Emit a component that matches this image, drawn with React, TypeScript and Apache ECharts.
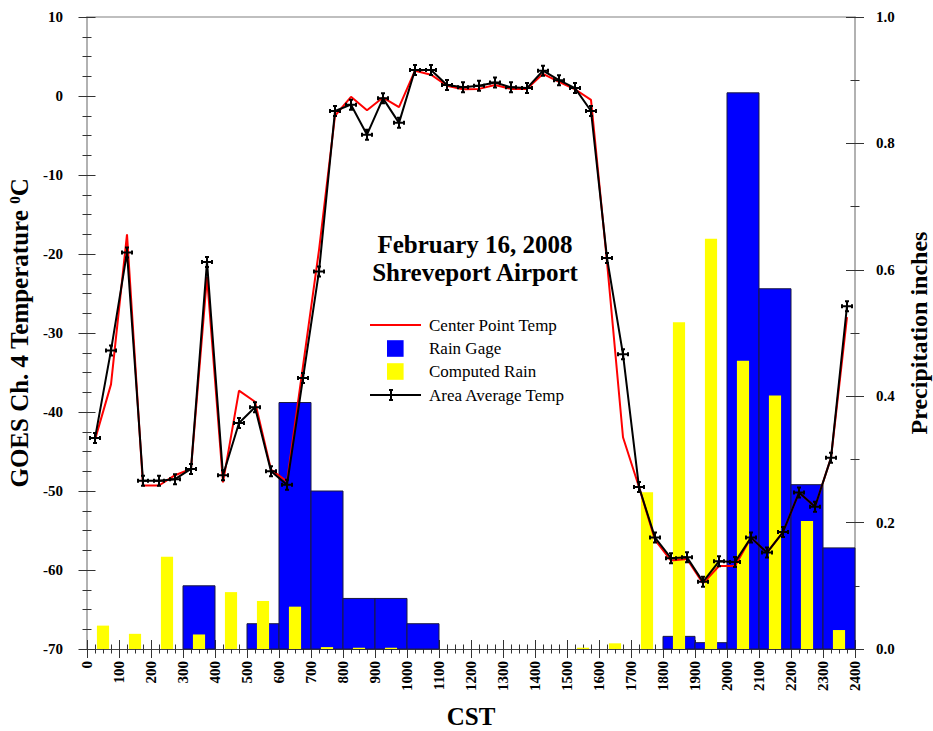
import React, { useEffect, useRef } from 'react';
import * as echarts from 'echarts';

const FONT = "'Liberation Serif', 'Times New Roman', serif";

// Temperature samples (CST, decimal-hour x 100 scale), every half hour
const tempTimes = [
  25, 75, 125, 175, 225, 275, 325, 375, 425, 475, 525, 575,
  625, 675, 725, 775, 825, 875, 925, 975, 1025, 1075, 1125, 1175,
  1225, 1275, 1325, 1375, 1425, 1475, 1525, 1575, 1625, 1675, 1725, 1775,
  1825, 1875, 1925, 1975, 2025, 2075, 2125, 2175, 2225, 2275, 2325, 2375,
];

const centerPointTemp = [
  -43.5, -36.5, -17.5, -49.3, -49.3, -48.0, -47.2, -22.9, -48.9, -37.3, -38.7, -47.3,
  -48.8, -34.2, -19.5, -2.5, -0.1, -1.8, -0.2, -1.4, 3.2, 2.7, 1.3, 0.85,
  0.9, 1.4, 0.9, 0.9, 2.8, 1.8, 0.85, -0.5, -21.0, -43.2, -49.5, -56.2,
  -58.8, -58.6, -61.7, -59.5, -59.5, -55.9, -57.8, -55.2, -50.2, -52.0, -45.8, -28.0,
];

const areaAverageTemp = [
  -43.3, -32.2, -19.8, -48.7, -48.7, -48.5, -47.2, -21.0, -48.0, -41.4, -39.4, -47.5,
  -49.2, -35.7, -22.2, -1.9, -1.1, -4.9, -0.3, -3.4, 3.3, 3.3, 1.4, 1.1,
  1.3, 1.7, 1.1, 1.0, 3.2, 2.0, 1.0, -1.9, -20.5, -32.7, -49.5, -55.9,
  -58.5, -58.4, -61.5, -58.9, -59.0, -55.9, -57.8, -55.2, -50.2, -52.0, -45.8, -26.6,
];

// Hourly rain gage totals (inches), bar spans hourStart .. hourStart + 100
const hourStarts = [
  0, 100, 200, 300, 400, 500, 600, 700, 800, 900, 1000, 1100,
  1200, 1300, 1400, 1500, 1600, 1700, 1800, 1900, 2000, 2100, 2200, 2300,
];
const rainGage = [
  0, 0, 0, 0.10, 0, 0.04, 0.39, 0.25, 0.08, 0.08, 0.04, 0,
  0, 0, 0, 0, 0, 0, 0.02, 0.01, 0.88, 0.57, 0.26, 0.16,
];

// Computed rain (inches), centred on the half hour
const computedRainTimes = [
  50, 150, 250, 350, 450, 550, 650, 750, 850, 950, 1050, 1150,
  1250, 1350, 1450, 1550, 1650, 1750, 1850, 1950, 2050, 2150, 2250, 2350,
];
const computedRain = [
  0.037, 0.024, 0.146, 0.023, 0.09, 0.076, 0.067, 0.003, 0.002, 0.002, 0, 0,
  0, 0, 0, 0.002, 0.009, 0.248, 0.517, 0.649, 0.456, 0.401, 0.2025, 0.030,
];

const HOUR_SPAN = 100;
const COMPUTED_HALF = 19;

const MARKER =
  'path://M3,0 L7,0 M5,0 L5,10 M3,10 L7,10 M0,3 L0,7 M0,5 L10,5 M10,3 L10,7';

export default function App() {
  const ref = useRef<HTMLDivElement>(null);

  useEffect(() => {
    if (!ref.current) return;
    const chart = echarts.init(ref.current, undefined, { renderer: 'svg' });

    const tickColor = '#333';
    const labelStyle = { fontFamily: FONT, fontSize: 15, fontWeight: 'bold', color: '#000' };
    const nameStyle = { fontFamily: FONT, fontSize: 25, fontWeight: 'bold', color: '#000' };

    const legendX = 370;
    const legendRows = [325, 348.5, 371.5, 395];
    const mk = 391;

    const gridBox = { left: 87, top: 17, width: 768, height: 632, outerBoundsMode: 'none', containLabel: false };

    const option: any = {
      animation: false,
      textStyle: { fontFamily: FONT },
      title: {
        text: 'February 16, 2008\nShreveport Airport',
        left: 475,
        top: 230,
        padding: 0,
        textAlign: 'center',
        textStyle: { fontFamily: FONT, fontSize: 25, fontWeight: 'bold', color: '#000', lineHeight: 28 },
      },
      grid: [{ ...gridBox }, { ...gridBox }],
      xAxis: [
        {
          type: 'value', gridIndex: 0, position: 'bottom', min: 0, max: 2400, interval: 100,
          axisLine: { show: true, onZero: false, lineStyle: { color: '#444', width: 1 } },
          axisTick: { show: true, inside: false, length: 9, lineStyle: { color: tickColor, width: 1 } },
          minorTick: { show: true, splitNumber: 4, length: 4.5, lineStyle: { color: tickColor, width: 1 } },
          axisLabel: { ...labelStyle, rotate: 90, margin: 12, formatter: (v: number) => String(v) },
          splitLine: { show: false },
          name: 'CST', nameLocation: 'middle', nameGap: 55, nameTextStyle: nameStyle,
        },
        {
          type: 'value', gridIndex: 1, position: 'bottom', min: 0, max: 2400, interval: 100,
          axisLine: { show: false, onZero: false },
          axisTick: { show: true, inside: true, length: 9, lineStyle: { color: tickColor, width: 1 } },
          minorTick: { show: true, splitNumber: 4, length: 4.5, lineStyle: { color: tickColor, width: 1 } },
          axisLabel: { show: false },
          splitLine: { show: false },
        },
        {
          type: 'value', gridIndex: 0, position: 'top', min: 0, max: 2400,
          axisLine: { show: true, onZero: false, lineStyle: { color: '#aaa', width: 1.5 } },
          axisTick: { show: false },
          axisLabel: { show: false },
          splitLine: { show: false },
        },
      ],
      yAxis: [
        {
          type: 'value', gridIndex: 0, position: 'left', min: -70, max: 10, interval: 10,
          axisLine: { show: true, onZero: false, lineStyle: { color: '#999', width: 1.5 } },
          axisTick: { show: true, inside: false, length: 8.5, lineStyle: { color: tickColor, width: 1 } },
          minorTick: { show: true, splitNumber: 4, length: 4.5, lineStyle: { color: tickColor, width: 1 } },
          axisLabel: { ...labelStyle, margin: 24 },
          splitLine: { show: false },
          name: 'GOES Ch. 4 Temperature {sup|0}C',
          nameLocation: 'middle', nameRotate: 90, nameGap: 49,
          nameTextStyle: {
            ...nameStyle,
            rich: { sup: { fontFamily: FONT, fontSize: 15, fontWeight: 'bold', color: '#000', verticalAlign: 'top' } },
          },
        },
        {
          type: 'value', gridIndex: 0, position: 'right', min: 0, max: 1, interval: 0.2,
          axisLine: { show: true, onZero: false, lineStyle: { color: '#999', width: 1.5 } },
          axisTick: { show: true, inside: false, length: 9, lineStyle: { color: tickColor, width: 1 } },
          minorTick: { show: true, splitNumber: 2, length: 4.5, lineStyle: { color: tickColor, width: 1 } },
          axisLabel: { ...labelStyle, margin: 21, formatter: (v: number) => v.toFixed(1) },
          splitLine: { show: false },
          name: 'Precipitation inches',
          nameLocation: 'middle', nameRotate: 90, nameGap: 52,
          nameTextStyle: { ...nameStyle, fontSize: 24, lineHeight: 24 },
        },
        {
          type: 'value', gridIndex: 1, position: 'left', min: -70, max: 10, interval: 10,
          axisLine: { show: false, onZero: false },
          axisTick: { show: true, inside: true, length: 8.5, lineStyle: { color: tickColor, width: 1 } },
          minorTick: { show: true, splitNumber: 4, length: 4.5, lineStyle: { color: tickColor, width: 1 } },
          axisLabel: { show: false },
          splitLine: { show: false },
        },
        {
          type: 'value', gridIndex: 1, position: 'right', min: 0, max: 1, interval: 0.2,
          axisLine: { show: false, onZero: false },
          axisTick: { show: true, inside: true, length: 9, lineStyle: { color: tickColor, width: 1 } },
          minorTick: { show: true, splitNumber: 2, length: 4.5, lineStyle: { color: tickColor, width: 1 } },
          axisLabel: { show: false },
          splitLine: { show: false },
        },
      ],
      series: [
        {
          name: 'Rain Gage',
          type: 'custom',
          xAxisIndex: 0,
          yAxisIndex: 1,
          z: 1,
          encode: { x: 0, y: 1 },
          data: hourStarts.map((h, i) => [h, rainGage[i]]),
          renderItem: (params: any, api: any) => {
            const x0 = api.value(0);
            const v = api.value(1);
            if (!v) return null;
            const p0 = api.coord([x0, 0]);
            const p1 = api.coord([x0 + HOUR_SPAN, v]);
            return {
              type: 'rect',
              shape: { x: p0[0], y: p1[1], width: p1[0] - p0[0], height: p0[1] - p1[1] },
              style: { fill: '#0000ff', stroke: '#1a1a40', lineWidth: 1 },
            };
          },
        },
        {
          name: 'Computed Rain',
          type: 'custom',
          xAxisIndex: 0,
          yAxisIndex: 1,
          z: 2,
          encode: { x: 0, y: 1 },
          data: computedRainTimes.map((t, i) => [t, computedRain[i]]),
          renderItem: (params: any, api: any) => {
            const xc = api.value(0);
            const v = api.value(1);
            if (!v) return null;
            const p0 = api.coord([xc - COMPUTED_HALF, 0]);
            const p1 = api.coord([xc + COMPUTED_HALF, v]);
            return {
              type: 'rect',
              shape: { x: p0[0], y: p1[1], width: p1[0] - p0[0], height: Math.max(1, p0[1] - p1[1]) },
              style: { fill: '#ffff00' },
            };
          },
        },
        {
          name: 'Center Point Temp',
          type: 'line',
          xAxisIndex: 0,
          yAxisIndex: 0,
          z: 3,
          showSymbol: false,
          symbol: 'none',
          lineStyle: { color: '#ff0000', width: 2 },
          data: tempTimes.map((t, i) => [t, centerPointTemp[i]]),
        },
        {
          name: 'Area Average Temp',
          type: 'line',
          xAxisIndex: 0,
          yAxisIndex: 0,
          z: 4,
          symbol: MARKER,
          symbolSize: 10,
          itemStyle: { color: '#000', borderColor: '#000', borderWidth: 2 },
          lineStyle: { color: '#000', width: 2 },
          data: tempTimes.map((t, i) => [t, areaAverageTemp[i]]),
        },
      ],
      graphic: [
        {
          type: 'group',
          z: 100,
          children: [
            { type: 'line', shape: { x1: legendX, y1: legendRows[0], x2: legendX + 51, y2: legendRows[0] }, style: { stroke: '#ff0000', lineWidth: 2 } },
            { type: 'rect', shape: { x: 387, y: legendRows[1] - 8.3, width: 16.6, height: 16.6 }, style: { fill: '#0000ff' } },
            { type: 'rect', shape: { x: 387, y: legendRows[2] - 8.3, width: 16.6, height: 16.6 }, style: { fill: '#ffff00' } },
            { type: 'line', shape: { x1: legendX, y1: legendRows[3], x2: legendX + 51, y2: legendRows[3] }, style: { stroke: '#000', lineWidth: 2 } },
            { type: 'line', shape: { x1: mk, y1: legendRows[3] - 5, x2: mk, y2: legendRows[3] + 5 }, style: { stroke: '#000', lineWidth: 2 } },
            { type: 'line', shape: { x1: mk - 2, y1: legendRows[3] - 5, x2: mk + 2, y2: legendRows[3] - 5 }, style: { stroke: '#000', lineWidth: 2 } },
            { type: 'line', shape: { x1: mk - 2, y1: legendRows[3] + 5, x2: mk + 2, y2: legendRows[3] + 5 }, style: { stroke: '#000', lineWidth: 2 } },
            ...['Center Point Temp', 'Rain Gage', 'Computed Rain', 'Area Average Temp'].map((label, i) => ({
              type: 'text',
              x: 429,
              y: legendRows[i],
              style: { text: label, fontFamily: FONT, fontSize: 17, fill: '#000', verticalAlign: 'middle', align: 'left' },
            })),
          ],
        },
      ],
    };

    chart.setOption(option);
    return () => chart.dispose();
  }, []);

  return (
    <div
      ref={ref}
      style={{ position: 'fixed', left: 0, top: 0, width: 933, height: 731, background: '#fff' }}
    />
  );
}
